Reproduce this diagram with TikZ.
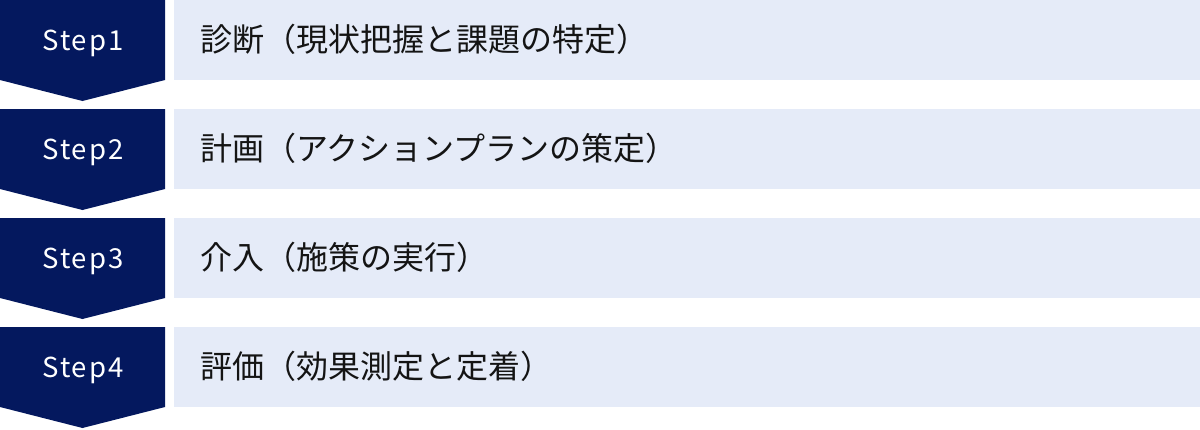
\documentclass[tikz,border=0pt]{standalone}
\usepackage{fontspec}
\setmainfont{Noto Sans CJK JP}
\newfontfamily\stepfont[LetterSpace=7]{Noto Sans CJK JP}
\newfontfamily\jpfont{Noto Sans CJK JP}
\definecolor{navy}{RGB}{4,24,94}
\definecolor{lightbox}{RGB}{229,235,248}
\definecolor{ink}{RGB}{20,20,20}
\begin{document}
\begin{tikzpicture}[x=1pt,y=-1pt,
  stepshape/.style={fill=navy,draw=none},
  bandbox/.style={fill=lightbox,draw=none},
  steplabel/.style={text=white,font=\stepfont\fontsize{27.5}{32}\selectfont,anchor=base,inner sep=0pt},
  desclabel/.style={text=ink,font=\jpfont\fontsize{32}{38}\selectfont,anchor=base west,inner sep=0pt}]
\useasboundingbox (0,0) rectangle (1200,429);
\foreach \i/\s/\t in {0/Step1/診断（現状把握と課題の特定）,1/Step2/計画（アクションプランの策定）,2/Step3/介入（施策の実行）,3/Step4/評価（効果測定と定着）}{
  \pgfmathsetmacro{\y}{109*\i}
  \fill[stepshape] (0,\y) -- (165,\y) -- (165,\y+80) -- (82.5,\y+101) -- (0,\y+80) -- cycle;
  \fill[bandbox] (174,\y) rectangle (1200,\y+80);
  \node[steplabel] (s\i) at (83,\y+50) {\s};
  \node[desclabel] (d\i) at (200,\y+51) {\t};
}
\end{tikzpicture}
\end{document}
